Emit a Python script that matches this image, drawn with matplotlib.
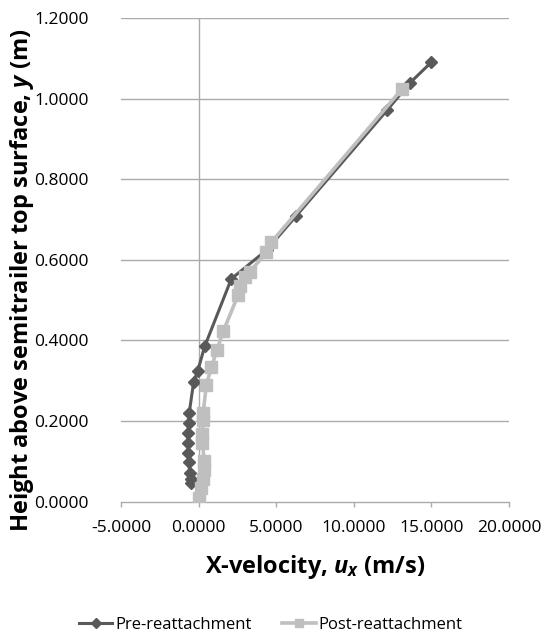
import matplotlib
matplotlib.use("Agg")
import matplotlib.pyplot as plt
from matplotlib.ticker import FormatStrFormatter

# velocity profiles above the semitrailer roof
pre_u = [15.00, 13.60, 12.15, 6.26, 4.40, 2.11, 0.39, -0.05, -0.32,
         -0.60, -0.65, -0.68, -0.69, -0.67, -0.62, -0.58, -0.52, -0.47]
pre_y = [1.091, 1.039, 0.972, 0.708, 0.625, 0.553, 0.385, 0.325, 0.297,
         0.221, 0.194, 0.171, 0.146, 0.121, 0.097, 0.072, 0.055, 0.045]

post_u = [13.10, 4.69, 4.37, 3.29, 2.97, 2.65, 2.54, 1.60, 1.18, 0.82,
          0.50, 0.30, 0.28, 0.25, 0.24, 0.38, 0.36, 0.30, 0.18, 0.00]
post_y = [1.024, 0.644, 0.619, 0.570, 0.557, 0.536, 0.512, 0.424, 0.376,
          0.333, 0.290, 0.221, 0.203, 0.168, 0.145, 0.100, 0.078, 0.055,
          0.034, 0.008]

xticks = [-5, 0, 5, 10, 15, 20]
yticks = [0.0, 0.2, 0.4, 0.6, 0.8, 1.0, 1.2]

plt.rcParams['font.family'] = ['Open Sans', 'DejaVu Sans']
plt.rcParams['mathtext.fontset'] = 'custom'
plt.rcParams['mathtext.it'] = 'Open Sans:italic:bold'

fig = plt.figure(figsize=(5.42, 6.34), dpi=100)
ax = fig.add_axes([121/542, 1-501.5/634, (509-121)/542, (501.5-18.3)/634])

grid_c = '#ababab'
for yv in yticks[1:]:
    ax.axhline(yv, color=grid_c, lw=1.0, zorder=0)
ax.axvline(0, color=grid_c, lw=1.0, zorder=0)

ax.plot(pre_u, pre_y, color='#595959', lw=2.2, marker='D', ms=6,
        label='Pre-reattachment', zorder=3)
ax.plot(post_u, post_y, color='#bfbfbf', lw=2.6, marker='s', ms=8,
        label='Post-reattachment', zorder=4)

ax.set_xlim(-5, 20)
ax.set_ylim(0, 1.2)
ax.set_xticks(xticks)
ax.set_yticks(yticks)
ax.xaxis.set_major_formatter(FormatStrFormatter('%.4f'))
ax.yaxis.set_major_formatter(FormatStrFormatter('%.4f'))

for s in ['top', 'right', 'left']:
    ax.spines[s].set_visible(False)
ax.spines['bottom'].set_color(grid_c)
ax.spines['bottom'].set_linewidth(1.0)
ax.tick_params(axis='x', colors=grid_c, length=3.6, width=1.0, labelcolor='black',
               labelsize=12.5, pad=10)
ax.tick_params(axis='y', length=0, labelsize=12.5, labelcolor='black', pad=23)

ax.set_xlabel('X-velocity, $u_x$ (m/s)', fontsize=17, fontweight='bold', labelpad=12)
fig.text(22/542, 1-280/634, 'Height above semitrailer top surface, $y$ (m)',
         rotation=90, ha='center', va='center', fontsize=17, fontweight='bold')

fig.legend(loc='center', bbox_to_anchor=(0.5, 1-625/634), ncol=2, frameon=False,
           fontsize=12, handlelength=2.0, handletextpad=0.2, columnspacing=1.8,
           markerscale=0.8)

fig.savefig('out.png', dpi=100)
